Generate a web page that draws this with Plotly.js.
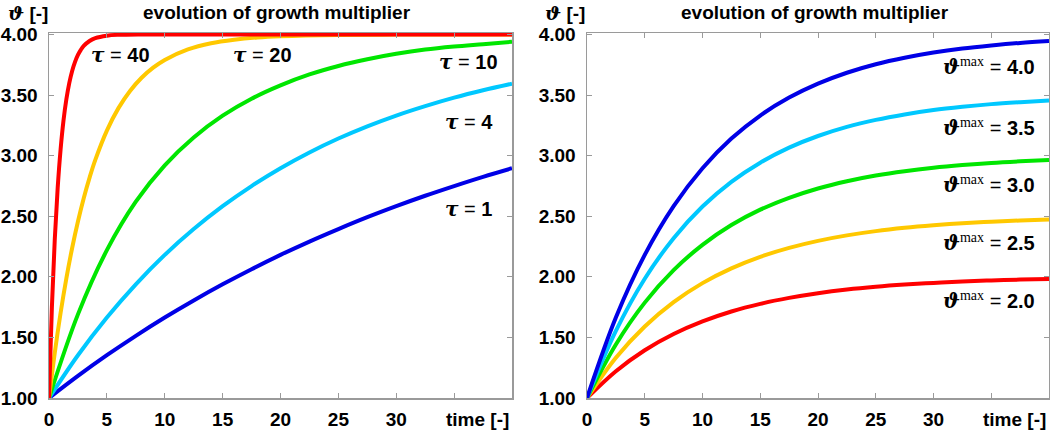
<!DOCTYPE html>
<html>
<head>
<meta charset="utf-8">
<script src="https://cdn.plot.ly/plotly-3.0.1.min.js"></script>
<style>html,body{margin:0;padding:0;background:#fff;}#chart{width:1050px;height:431px;}</style>
</head>
<body>
<div id="chart"></div>
<script>
// ---- data ----
// left panel: different tau, theta_max = 4
const tGridLeft  = [0,2.5,5,7.5,10,12.5,15,17.5,20,22.5,25,27.5,30,32.5,35,37.5,40];
const thetaTau1  = [1,1.182,1.353,1.513,1.664,1.805,1.938,2.063,2.181,2.291,2.394,2.492,2.583,2.669,2.749,2.825,2.896];
const thetaTau4  = [1,1.353,1.664,1.938,2.181,2.394,2.583,2.749,2.896,3.026,3.141,3.242,3.331,3.409,3.479,3.540,3.594];
const thetaTau10 = [1,1.690,2.220,2.620,2.920,3.150,3.330,3.470,3.580,3.670,3.740,3.795,3.840,3.875,3.900,3.920,3.940];
const tTau20     = [0,0.5,1,1.5,2,2.5,3,3.5,4,5,6,7,8,9,10,12,14,16,18,20,25,30,35,40];
const thetaTau20 = [1,1.374,1.701,1.987,2.238,2.457,2.649,2.817,2.965,3.207,3.392,3.534,3.643,3.726,3.790,3.877,3.928,3.957,3.975,3.985,3.996,3.999,4.0,4.0];
const tTau40     = [0,0.25,0.5,0.75,1,1.25,1.5,1.75,2,2.25,2.5,2.75,3,3.5,4,5,6,8,10,15,20,30,40];
const thetaTau40 = [1,1.750,2.312,2.734,3.050,3.288,3.465,3.599,3.699,3.774,3.831,3.873,3.905,3.946,3.970,3.990,3.997,4.0,4.0,4.0,4.0,4.0,4.0];

// right panel: different theta_max
const tGridRight = [0,2.5,5,7.5,10,12.5,15,17.5,20,22.5,25,27.5,30,32.5,35,37.5,40];
const thetaMax40 = [1,1.664,2.181,2.583,2.896,3.141,3.331,3.479,3.594,3.684,3.754,3.808,3.851,3.884,3.909,3.930,3.945];
const thetaMax35 = [1,1.553,1.984,2.319,2.580,2.784,2.942,3.066,3.162,3.237,3.295,3.340,3.376,3.403,3.425,3.441,3.454];
const thetaMax30 = [1,1.442,1.787,2.055,2.264,2.427,2.554,2.652,2.729,2.789,2.836,2.872,2.900,2.922,2.940,2.953,2.963];
const thetaMax25 = [1,1.332,1.590,1.791,1.948,2.070,2.165,2.239,2.297,2.342,2.377,2.404,2.425,2.442,2.455,2.465,2.473];
const thetaMax20 = [1,1.221,1.394,1.528,1.632,1.714,1.777,1.826,1.865,1.895,1.918,1.936,1.950,1.961,1.970,1.977,1.982];

const xTickVals = [0,5,10,15,20,25,30,35];
const xTickText = ['0','5','10','15','20','25','30',''];
const yTickVals = [1,1.5,2,2.5,3,3.5,4];
const yTickText = ['1.00','1.50','2.00','2.50','3.00','3.50','4.00'];

const leftLabels = ['τ = 1','τ = 4','τ = 10','τ = 20','τ = 40'];
const rightLabels = ['4.0','3.5','3.0','2.5','2.0'];
const titleText = 'evolution of growth multiplier';
const yTitleText = 'ϑ [-]';
const xTitleText = 'time [-]';

// ---- styling ----
const C = {red:'#ff0000', yellow:'#ffc800', green:'#00e600', cyan:'#00c8ff', blue:'#0000e6'};
const LW = 4;
function tr(x, y, color, xa, ya) {
  return {x:x, y:y, type:'scatter', mode:'lines', xaxis:xa, yaxis:ya,
          line:{color:color, width:LW, shape:'spline', smoothing:1},
          hoverinfo:'skip', showlegend:false};
}
const traces = [
  tr(tGridLeft, thetaTau1, C.blue, 'x', 'y'),
  tr(tGridLeft, thetaTau4, C.cyan, 'x', 'y'),
  tr(tGridLeft, thetaTau10, C.green, 'x', 'y'),
  tr(tTau20, thetaTau20, C.yellow, 'x', 'y'),
  tr(tTau40, thetaTau40, C.red, 'x', 'y'),
  tr(tGridRight, thetaMax20, C.red, 'x2', 'y2'),
  tr(tGridRight, thetaMax25, C.yellow, 'x2', 'y2'),
  tr(tGridRight, thetaMax30, C.green, 'x2', 'y2'),
  tr(tGridRight, thetaMax35, C.cyan, 'x2', 'y2'),
  tr(tGridRight, thetaMax40, C.blue, 'x2', 'y2')
];

const tickFont = {family:'Liberation Sans, Arial, sans-serif', size:19, color:'#000', weight:'bold'};
const axColor = '#9a9a9a';
function xAxis(domain, anchor) {
  return {domain:domain, anchor:anchor, range:[0,40], showgrid:false, zeroline:false,
    showline:true, linecolor:axColor, linewidth:1.5, mirror:'ticks',
    ticks:'inside', ticklen:5, tickwidth:1, tickcolor:axColor,
    tickmode:'array', tickvals:xTickVals, ticktext:xTickText,
    tickfont:tickFont, ticklabelstandoff:4, fixedrange:true};
}
function yAxis(anchor) {
  return {domain:[0,1], anchor:anchor, range:[1,4.012], showgrid:false, zeroline:false,
    showline:true, linecolor:axColor, linewidth:1.5, mirror:'ticks',
    ticks:'inside', ticklen:5, tickwidth:1, tickcolor:axColor,
    tickmode:'array', tickvals:yTickVals, ticktext:yTickText,
    tickfont:tickFont, ticklabelstandoff:6, fixedrange:true};
}

const bold = {family:'Liberation Sans, Arial, sans-serif', size:19, color:'#000', weight:'bold'};
const labFont = {family:'Liberation Sans, Arial, sans-serif', size:20, color:'#000', weight:'bold'};
const tauHtml = s => '<span style="font-family:DejaVu Serif;font-style:italic;font-weight:bold">τ</span>' + s.slice(1).replace('=', '<span style="font-weight:normal">=</span>');
const thetaMaxHtml = v => '<span style="font-family:DejaVu Serif;font-style:italic;font-weight:bold">ϑ</span><sup><span style="font-family:Liberation Serif;font-weight:normal">max</span></sup> <span style="font-weight:normal">=</span> ' + v;
const yTitleHtml = '<span style="font-family:DejaVu Serif;font-style:italic">ϑ</span>' + yTitleText.slice(1);

function ann(x, y, text, xanchor, font) {
  return {xref:'paper', yref:'paper', x:x, y:y, text:text, showarrow:false,
          xanchor:xanchor||'center', yanchor:'middle', font:font||bold};
}
const annotations = [
  ann(-0.043, 1.055, yTitleHtml, 'left'),
  ann(0.228, 1.055, titleText),
  ann(0.494, 1.055, yTitleHtml, 'left'),
  ann(0.766, 1.055, titleText),
  ann(0.462, -0.060, xTitleText, 'right'),
  ann(0.999, -0.060, xTitleText, 'right'),
  ann(0.071, 0.940, tauHtml(leftLabels[4]), 'center', labFont),
  ann(0.213, 0.940, tauHtml(leftLabels[3]), 'center', labFont),
  ann(0.451, 0.921, tauHtml(leftLabels[2]), 'right', labFont),
  ann(0.446, 0.756, tauHtml(leftLabels[1]), 'right', labFont),
  ann(0.445, 0.518, tauHtml(leftLabels[0]), 'right', labFont),
  ann(0.988, 0.907, thetaMaxHtml(rightLabels[0]), 'right', labFont),
  ann(0.988, 0.742, thetaMaxHtml(rightLabels[1]), 'right', labFont),
  ann(0.988, 0.586, thetaMaxHtml(rightLabels[2]), 'right', labFont),
  ann(0.988, 0.427, thetaMaxHtml(rightLabels[3]), 'right', labFont),
  ann(0.988, 0.268, thetaMaxHtml(rightLabels[4]), 'right', labFont)
];

const layout = {
  width:1050, height:431,
  margin:{l:49, r:1, t:33, b:33, pad:0},
  paper_bgcolor:'#fff', plot_bgcolor:'#fff',
  showlegend:false,
  xaxis:xAxis([0,0.463], 'y'),
  yaxis:yAxis('x'),
  xaxis2:xAxis([0.538,1], 'y2'),
  yaxis2:yAxis('x2'),
  annotations:annotations
};
Plotly.newPlot('chart', traces, layout, {staticPlot:true, displayModeBar:false});
</script>
</body>
</html>
